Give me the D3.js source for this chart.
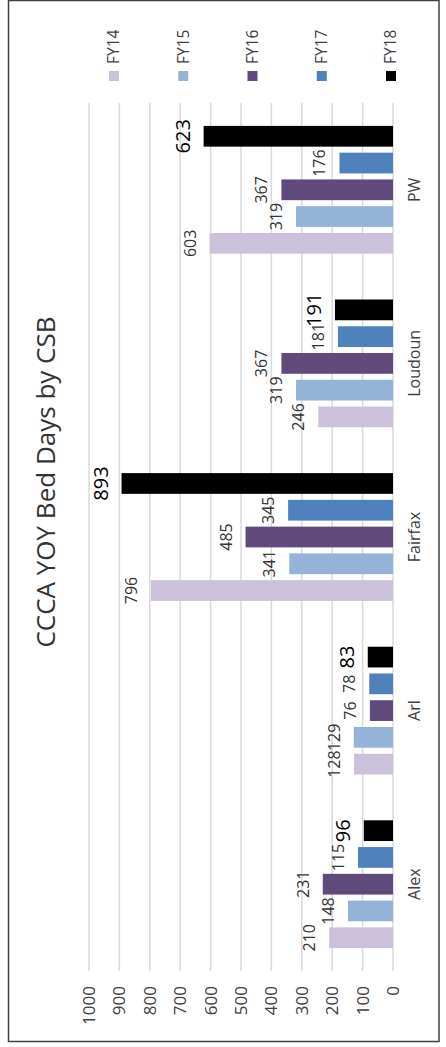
<!DOCTYPE html>
<html>
<head>
<meta charset="utf-8">
<script src="https://cdn.jsdelivr.net/npm/d3@7"></script>
<style>
  html, body { margin: 0; padding: 0; background: #fff; }
  svg { display: block; }
  text { font-family: "Open Sans", sans-serif; }
</style>
</head>
<body>
<svg id="chart" width="446" height="1047"></svg>
<script>
// ---- data ----
const categories = ["Alex", "Arl", "Fairfax", "Loudoun", "PW"];
const seriesNames = ["FY14", "FY15", "FY16", "FY17", "FY18"];
const fy14 = [210, 128, 796, 246, 603];
const fy15 = [148, 129, 341, 319, 319];
const fy16 = [231, 76, 485, 367, 367];
const fy17 = [115, 78, 345, 181, 176];
const fy18 = [96, 83, 893, 191, 623];
const tickValues = [0, 100, 200, 300, 400, 500, 600, 700, 800, 900, 1000];
const colors = ["#CCC1DA", "#95B3D7", "#604A7B", "#4F81BD", "#000000"];
const titleText = "CCCA YOY Bed Days by CSB";

const seriesValues = [fy14, fy15, fy16, fy17, fy18];

// ---- layout (inner, unrotated chart; rotated -90deg onto page) ----
const W = 1047, H = 446;
const svg = d3.select("#chart");

svg.append("rect")
  .attr("x", 8.5).attr("y", 0.5).attr("width", 430.5).attr("height", 1041)
  .attr("fill", "none").attr("stroke", "#404040").attr("stroke-width", 1.5);

const g = svg.append("g").attr("transform", `translate(0,${W}) rotate(-90)`);

const plotLeft = 76, plotRight = 944;
const x0 = d3.scaleBand().domain(categories).range([plotLeft, plotRight])
  .paddingInner(0.23).paddingOuter(0.115);
const x1 = d3.scaleBand().domain(seriesNames).range([0, x0.bandwidth()])
  .paddingInner(0.225).paddingOuter(0.11);
const y = d3.scaleLinear().domain([0, 1000]).range([393, 89]);

// gridlines
g.append("g").selectAll("line").data(tickValues).join("line")
  .attr("x1", plotLeft).attr("x2", plotRight)
  .attr("y1", d => y(d)).attr("y2", d => y(d))
  .attr("stroke", "#d9d9d9").attr("stroke-width", 1.5);

// value axis labels
const yAxis = d3.axisLeft(y).tickValues(tickValues).tickFormat(d3.format("d"))
  .tickSize(0).tickPadding(0);
const ax = g.append("g").attr("transform", `translate(61,0)`).call(yAxis);
ax.select(".domain").remove();
ax.selectAll("text")
  .attr("font-family", "Open Sans, sans-serif")
  .attr("font-size", 17).attr("fill", "#404040");

// bars
const groups = g.append("g").selectAll("g").data(categories).join("g")
  .attr("transform", d => `translate(${x0(d)},0)`);

groups.selectAll("rect")
  .data((c, ci) => seriesNames.map((s, si) => ({ s, si, v: seriesValues[si][ci] })))
  .join("rect")
  .attr("x", d => x1(d.s))
  .attr("width", x1.bandwidth())
  .attr("y", d => y(d.v))
  .attr("height", d => y(0) - y(d.v))
  .attr("fill", d => colors[d.si]);

// data labels
groups.selectAll("text.lbl")
  .data((c, ci) => seriesNames.map((s, si) => ({ s, si, v: seriesValues[si][ci] })))
  .join("text").attr("class", "lbl")
  .attr("x", d => x1(d.s) + x1.bandwidth() / 2)
  .attr("y", d => y(d.v) - 14)
  .attr("text-anchor", "middle")
  .attr("font-size", d => d.si === 4 ? 20 : 16)
  .attr("fill", d => d.si === 4 ? "#000" : "#333")
  .text(d => d.v);

// category axis labels
const xAxis = d3.axisBottom(x0).tickSize(0).tickPadding(0);
const cx = g.append("g").attr("transform", `translate(0,409)`).call(xAxis);
cx.select(".domain").remove();
cx.selectAll("text")
  .attr("font-family", "Open Sans, sans-serif")
  .attr("font-size", 16).attr("fill", "#404040").attr("dy", "0.71em");

// title
g.append("text")
  .attr("x", 565).attr("y", 55)
  .attr("text-anchor", "middle")
  .attr("font-size", 26).attr("fill", "#333")
  .text(titleText);

// legend
const legX = 966;
const legendPos = d3.scalePoint().domain(seriesNames).range([114, 391]);
const leg = g.append("g").selectAll("g").data(seriesNames).join("g")
  .attr("transform", d => `translate(${legX},${legendPos(d)})`);
leg.append("rect").attr("x", 0).attr("y", -5).attr("width", 10).attr("height", 10)
  .attr("fill", (d, i) => colors[i]);
leg.append("text").attr("x", 17).attr("y", 0).attr("dy", "0.35em")
  .attr("font-size", 15.5).attr("fill", "#404040")
  .text(d => d);
</script>
</body>
</html>
